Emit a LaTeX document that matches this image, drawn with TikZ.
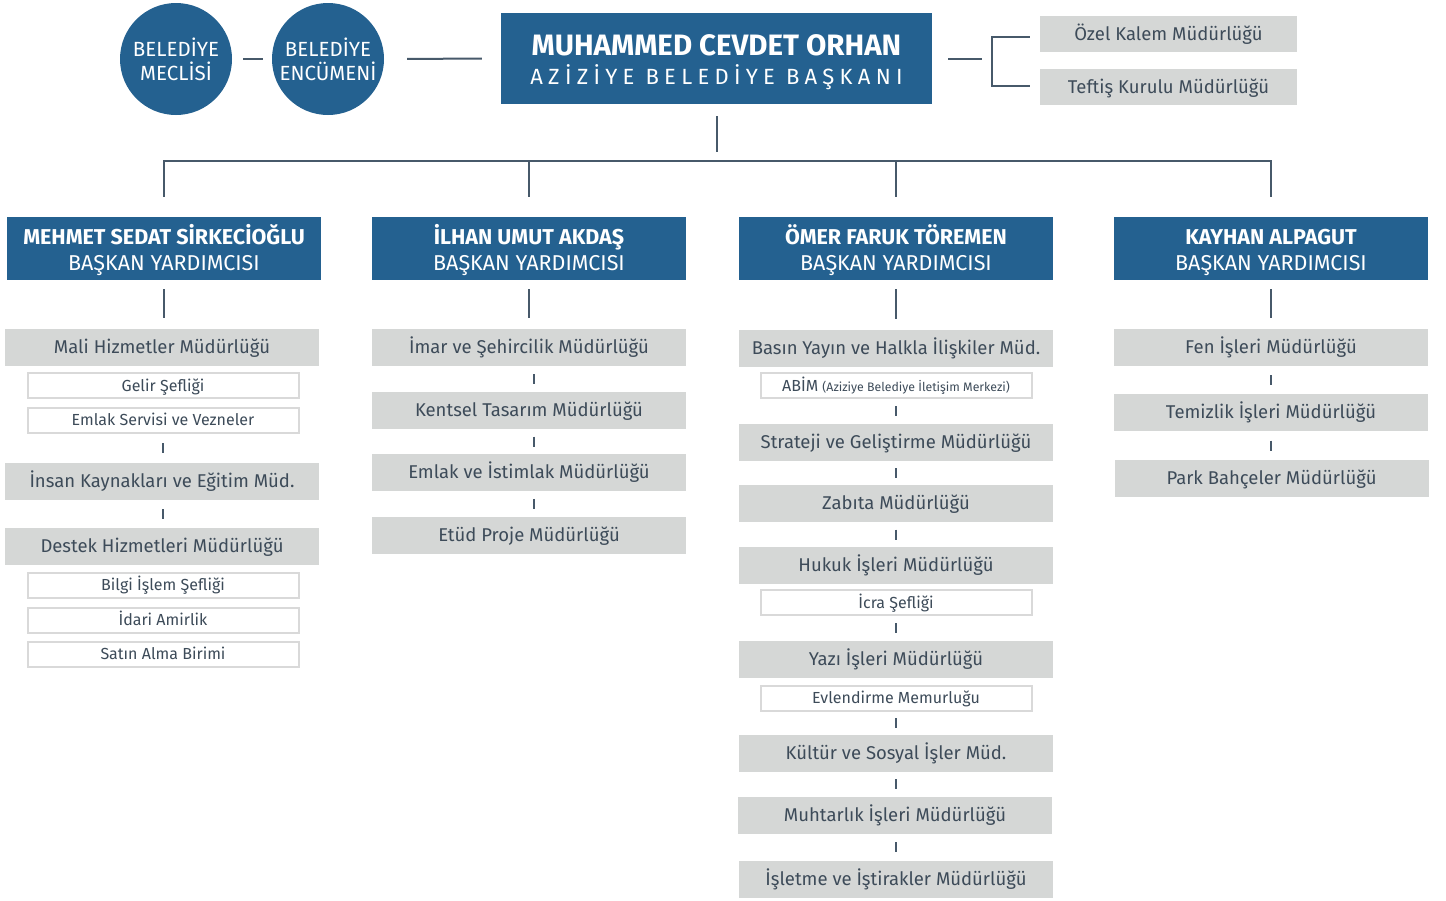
\documentclass[tikz,border=0pt]{standalone}
\usepackage{fontspec}
\setmainfont{Fira Sans}
\usetikzlibrary{calc}
\definecolor{bblue}{RGB}{36,97,144}
\definecolor{gfill}{RGB}{213,215,214}
\definecolor{lin}{RGB}{71,89,106}
\definecolor{txt}{RGB}{61,75,89}
\definecolor{wbord}{RGB}{217,217,217}
\tikzset{
  x=1pt,y=-1pt,
  conn/.style={draw=lin,line width=2pt},
  tickl/.style={draw=lin,line width=1.8pt},
  circ/.style={circle,fill=bblue,minimum size=112pt,inner sep=0pt,text=white,align=center,font=\fontsize{20.5}{24}\selectfont},
  gbox/.style={rectangle,fill=gfill,minimum width=314pt,minimum height=37pt,inner sep=0pt,text=txt,text height=17pt,text depth=4.3pt,font=\fontsize{18.5}{20}\selectfont},
  sbox/.style={gbox,minimum width=257pt,minimum height=36pt},
  wbox/.style={rectangle,fill=white,draw=wbord,line width=2pt,minimum width=271pt,minimum height=25pt,inner sep=0pt,text=txt,text height=15pt,text depth=4pt,font=\fontsize{16}{18}\selectfont},
  vpbox/.style={rectangle,fill=bblue,minimum width=314pt,minimum height=63pt,inner sep=0pt,text=white,align=center,font=\fontsize{21.5}{26}\selectfont},
}
\newcommand{\tk}[3][0]{\draw[tickl] ($(#2.south)!.5!(#2.south|-#3.north)+(#1,-5)$) -- ($(#2.south)!.5!(#2.south|-#3.north)+(#1,5)$);}
\newcommand{\vpt}[1]{{\bfseries\rule{0pt}{23pt}\smash{#1}}\\BAŞKAN YARDIMCISI}
\begin{document}
\begin{tikzpicture}
\useasboundingbox[fill=white] (0,0) rectangle (1446,900);
% top
\node[circ] (meclis) at (176,59) {BELEDİYE\\MECLİSİ};
\node[circ] (encumen) at (328,59) {BELEDİYE\\ENCÜMENİ};
\node[rectangle,fill=bblue,minimum width=431pt,minimum height=91pt,inner sep=0pt] (baskan) at (716.5,58.5) {};
\node[text=white,align=center,font=\fontsize{29.5}{29.5}\selectfont,yshift=-3.5pt] (baskantxt) at (baskan.center)
  {{\bfseries MUHAMMED CEVDET ORHAN}\\{\fontsize{22}{29.5}\selectfont\addfontfeature{LetterSpace=24}AZİZİYE BELEDİYE BAŞKANI}};
\node[sbox] (ozel) at (1168.5,34) {Özel Kalem Müdürlüğü};
\node[sbox] (teftis) at (1168.5,87) {Teftiş Kurulu Müdürlüğü};
\draw[conn,shorten <=11pt,shorten >=9pt] (meclis.east) -- (encumen.west);
\draw[conn,shorten <=23pt,shorten >=19pt] (encumen.east) -- (baskan.west);
\draw[conn,shorten <=16pt] (baskan.east) -- ++(50,0);
\draw[conn] ($(ozel.west)+(-10,3)$) -- ($(ozel.west)+(-48,3)$) |- ($(teftis.west)+(-10,-1)$);
% vice presidents
\node[vpbox] (vp1) at (164,248.5) {\vpt{MEHMET SEDAT SİRKECİOĞLU}};
\node[vpbox] (vp2) at (529,248.5) {\vpt{İLHAN UMUT AKDAŞ}};
\node[vpbox] (vp3) at (896,248.5) {\vpt{ÖMER FARUK TÖREMEN}};
\node[vpbox] (vp4) at (1271,248.5) {\vpt{KAYHAN ALPAGUT}};
\draw[conn,shorten <=12pt] (baskan.south) -- ++(0,48);
\draw[conn] ($(vp1.north)+(0,-20)$) -- ($(vp1.north)+(0,-56)$) -- ($(vp4.north)+(0,-56)$) -- ($(vp4.north)+(0,-20)$);
\draw[conn] ($(vp2.north)+(0,-20)$) -- ($(vp2.north)+(0,-56)$);
\draw[conn] ($(vp3.north)+(0,-20)$) -- ($(vp3.north)+(0,-56)$);
% column 1
\node[gbox] (mali) at (162,347.5) {Mali Hizmetler Müdürlüğü};
\node[wbox] (gelir) at (163,385.5) {Gelir Şefliği};
\node[wbox] (emlaks) at (163,420) {Emlak Servisi ve Vezneler};
\node[gbox] (insan) at (162,481.5) {İnsan Kaynakları ve Eğitim Müd.};
\node[gbox] (destek) at (162,546.5) {Destek Hizmetleri Müdürlüğü};
\node[wbox] (bilgi) at (163,585) {Bilgi İşlem Şefliği};
\node[wbox] (idari) at (163,620) {İdari Amirlik};
\node[wbox] (satin) at (163,654) {Satın Alma Birimi};
\draw[conn,shorten <=9pt,shorten >=11pt] (vp1.south) -- (vp1.south|-mali.north);
\tk{emlaks}{insan}
\tk[1]{insan}{destek}
% column 2
\node[gbox] (imar) at (529,347.5) {İmar ve Şehircilik Müdürlüğü};
\node[gbox] (kentsel) at (529,410.5) {Kentsel Tasarım Müdürlüğü};
\node[gbox] (istimlak) at (529,472.5) {Emlak ve İstimlak Müdürlüğü};
\node[gbox] (etud) at (529,535) {Etüd Proje Müdürlüğü};
\draw[conn,shorten <=9pt,shorten >=11pt] (vp2.south) -- (imar.north);
\tk[5]{imar}{kentsel}
\tk[5]{kentsel}{istimlak}
\tk[5]{istimlak}{etud}
% column 3
\node[gbox] (basin) at (896,348.5) {Basın Yayın ve Halkla İlişkiler Müd.};
\node[wbox] (abim) at (896,385.5) {ABİM {\fontsize{12.3}{14}\selectfont(Aziziye Belediye İletişim Merkezi)}};
\node[gbox] (strateji) at (896,442.5) {Strateji ve Geliştirme Müdürlüğü};
\node[gbox] (zabita) at (896,503.5) {Zabıta Müdürlüğü};
\node[gbox] (hukuk) at (896,565.5) {Hukuk İşleri Müdürlüğü};
\node[wbox] (icra) at (896,602.5) {İcra Şefliği};
\node[gbox] (yazi) at (896,659.5) {Yazı İşleri Müdürlüğü};
\node[wbox] (evlen) at (896,698) {Evlendirme Memurluğu};
\node[gbox] (kultur) at (896,753.5) {Kültür ve Sosyal İşler Müd.};
\node[gbox] (muhtar) at (895,815) {Muhtarlık İşleri Müdürlüğü};
\node[gbox] (isletme) at (896,879.5) {İşletme ve İştirakler Müdürlüğü};
\draw[conn,shorten <=9pt,shorten >=11pt] (vp3.south) -- (basin.north);
\tk{abim}{strateji}
\tk{strateji}{zabita}
\tk{zabita}{hukuk}
\tk{icra}{yazi}
\tk{evlen}{kultur}
\tk{kultur}{muhtar}
\tk[1]{muhtar}{isletme}
% column 4
\node[gbox] (fen) at (1271,347.5) {Fen İşleri Müdürlüğü};
\node[gbox] (temiz) at (1271,412.5) {Temizlik İşleri Müdürlüğü};
\node[gbox] (park) at (1271.5,478.5) {Park Bahçeler Müdürlüğü};
\draw[conn,shorten <=9pt,shorten >=11pt] (vp4.south) -- (fen.north);
\tk{fen}{temiz}
\tk{temiz}{park}
\end{tikzpicture}
\end{document}
